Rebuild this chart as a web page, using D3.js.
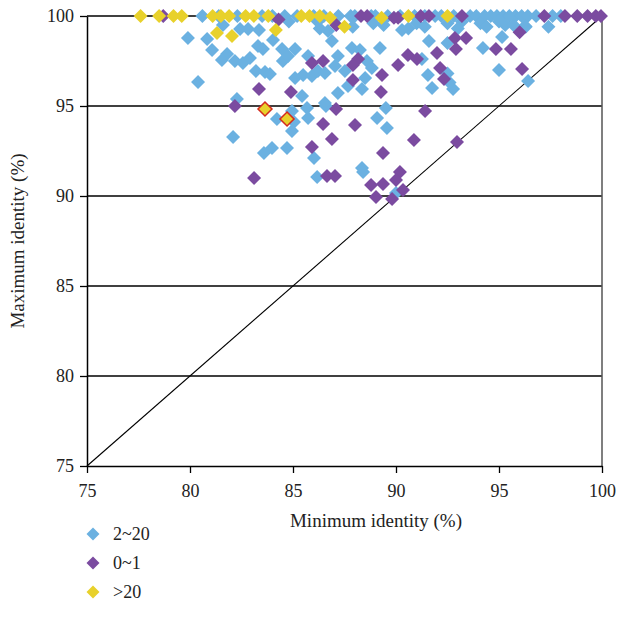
<!DOCTYPE html>
<html><head><meta charset="utf-8">
<script src="https://cdn.jsdelivr.net/npm/d3@7"></script>
<style>body{margin:0;background:#fff}svg{display:block}text{font-family:"Liberation Serif","DejaVu Serif",serif;fill:#222}</style>
</head><body>
<script>
const xTicks = [75, 80, 85, 90, 95, 100];
const yTicks = [75, 80, 85, 90, 95, 100];
const seriesNames = ["2~20", "0~1", ">20"];
const seriesColors = ["#6BB1E1", "#7B4BA0", "#E8D12B"];

// 2~20 (blue)
const blueX = [80.6,81.4,82.3,83.5,84.0,84.6,85.2,86.0,86.5,87.2,87.8,88.0,88.8,89.0,89.6,90.2,90.9,91.4,91.9,92.2,92.8,93.6,93.9,94.3,94.6,94.9,95.2,95.5,95.8,96.1,96.4,96.8,97.6,98.0,
 84.8,86.2,88.9,91.0,92.5,93.2,94.1,95.3,96.3,97.4,95.0,
 86.3,87.9,89.4,90.6,91.4,93.0,94.4,95.7,
 79.90,80.83,81.07,81.60,82.43,82.82,83.35,81.80,81.55,82.18,82.57,82.91,83.30,83.54,84.03,84.47,84.51,83.20,83.64,83.88,80.39,82.28,84.22,84.95,85.68,85.73,85.05,84.95,82.09,83.98,83.59,84.71,86.02,86.17,86.60,
 86.89,86.70,85.10,84.76,85.73,87.18,87.86,88.25,88.59,88.83,89.22,88.50,88.35,87.18,86.55,85.44,85.10,85.49,85.92,86.21,86.55,87.04,87.52,87.67,91.26,91.60,91.55,91.75,90.29,
 94.22,95.15,95.00,96.41,92.77,89.08,89.51,89.56,88.35,88.40,90.00,96.26,92.5,92.5,92.6];
const blueY = [100,100,100,100,100,100,100,100,100,100,100,100,100,100,100,100,100,100,100,100,100,100,100,100,100,100,100,100,100,100,100,100,100,100,
 99.7,99.7,99.6,99.6,99.6,99.7,99.6,99.5,99.4,99.4,99.7,
 99.3,99.4,99.5,99.3,99.4,99.3,99.4,99.5,
 98.78,98.72,98.11,99.50,99.28,99.28,99.22,97.89,97.56,97.50,97.39,97.67,98.33,98.17,98.67,98.17,97.50,96.94,96.89,96.78,96.33,95.39,94.28,94.72,94.89,94.33,94.11,93.61,93.28,92.67,92.39,92.67,92.11,91.06,95.0,
 98.61,99.17,98.17,97.78,97.78,97.78,98.22,98.11,97.50,97.11,98.22,96.56,95.94,95.72,95.17,95.56,96.56,96.72,96.67,96.94,96.83,97.22,96.94,96.11,97.61,98.61,96.72,96.0,99.22,
 98.22,98.83,97.00,96.39,95.94,94.33,94.89,93.78,91.56,91.33,90.17,99.44,98.5,96.8,96.3];

// 0~1 (purple)
const purpleX = [78.7,88.3,88.6,89.9,90.1,91.2,91.6,93.2,97.2,98.2,98.8,99.3,99.7,99.95,84.3,87.1,96.0,92.86,93.40,92.91,94.85,95.58,96.12,92.33,92.14,91.99,90.10,90.58,91.02,85.92,86.46,88.16,87.91,89.32,87.91,89.27,84.90,83.35,82.18,86.46,86.89,87.09,85.92,86.65,87.04,83.11,88.01,91.41,90.87,92.96,89.37,90.19,90.00,88.79,89.37,90.34,89.03,89.81];
const purpleY = [100,100,100,99.9,99.9,100,100,100,100,100,100,100,100,100,99.8,99.5,99.1,98.78,98.78,98.17,98.17,98.17,97.06,96.5,97.11,97.94,97.28,97.83,97.61,97.39,97.50,97.61,97.28,96.72,96.44,95.78,95.78,95.94,95.0,94.0,93.17,94.83,92.72,91.11,91.11,91.0,93.94,94.72,93.11,93.0,92.39,91.33,90.89,90.61,90.67,90.33,89.94,89.83];

// >20 (yellow)
const yellowX = [77.6,78.5,79.2,79.6,81.1,81.5,81.9,82.7,83.1,83.8,85.4,85.8,86.3,86.8,89.3,90.6,92.5,87.5,81.31,82.04,84.17,83.64,84.71];
const yellowY = [100,100,100,100,100,100,100,100,100,100,100,100,100,99.9,99.9,100,100,99.4,99.06,98.89,99.22,94.83,94.28];
const yellowOutlined = [false,false,false,false,false,false,false,false,false,false,false,false,false,false,false,false,false,false,false,false,false,true,true];

const W = 617, H = 628;
const m = {left: 87, right: 602, top: 16, bottom: 466};
const svg = d3.select("body").append("svg").attr("width", W).attr("height", H);
const x = d3.scaleLinear().domain([75, 100]).range([m.left, m.right]);
const y = d3.scaleLinear().domain([75, 100]).range([m.bottom, m.top]);

// gridlines
svg.append("g").selectAll("line").data(yTicks.filter(t => t > 75)).join("line")
  .attr("x1", m.left).attr("x2", m.right).attr("y1", d => y(d)).attr("y2", d => y(d))
  .attr("stroke", "#000").attr("stroke-width", 1.3);
// right border
svg.append("line").attr("x1", m.right).attr("x2", m.right).attr("y1", m.top).attr("y2", m.bottom)
  .attr("stroke", "#555").attr("stroke-width", 1.5);
// diagonal
svg.append("line").attr("x1", x(75)).attr("y1", y(75)).attr("x2", x(100)).attr("y2", y(100))
  .attr("stroke", "#000").attr("stroke-width", 1.1);

// axes
const xAxis = d3.axisBottom(x).tickValues(xTicks).tickSize(7).tickPadding(11).tickSizeOuter(0);
const gx = svg.append("g").attr("transform", `translate(0,${m.bottom})`).call(xAxis);
const yAxis = d3.axisLeft(y).tickValues(yTicks).tickSize(7).tickPadding(6).tickSizeOuter(0);
const gy = svg.append("g").attr("transform", `translate(${m.left},0)`).call(yAxis);
[gx, gy].forEach(g => {
  g.select(".domain").attr("stroke", "#000").attr("stroke-width", 1.5);
  g.selectAll(".tick line").attr("stroke", "#000").attr("stroke-width", 1.3);
  g.selectAll(".tick text").attr("font-size", 18).attr("font-family", "Liberation Serif, serif").attr("fill", "#222");
});

// diamond path
const diamond = (r) => `M0,${-r}L${r},0L0,${r}L${-r},0Z`;

function drawSeries(xs, ys, color, outl) {
  svg.append("g").selectAll("path").data(xs.map((v, i) => ({x: v, y: ys[i], o: outl ? outl[i] : false}))).join("path")
    .attr("d", diamond(7))
    .attr("transform", d => `translate(${x(d.x)},${y(d.y)})`)
    .attr("fill", color)
    .attr("stroke", d => d.o ? "#D42A1E" : "none")
    .attr("stroke-width", d => d.o ? 1.5 : 0);
}
drawSeries(blueX, blueY, seriesColors[0]);
drawSeries(purpleX, purpleY, seriesColors[1]);
drawSeries(yellowX, yellowY, seriesColors[2], yellowOutlined);

// axis titles
svg.append("text").attr("x", 376).attr("y", 527).attr("text-anchor", "middle").attr("font-size", 19)
  .text("Minimum identity (%)");
svg.append("text").attr("transform", "translate(24,241) rotate(-90)").attr("text-anchor", "middle").attr("font-size", 19)
  .text("Maximum identity (%)");

// legend
const lg = svg.append("g");
seriesNames.forEach((n, i) => {
  const cy = 534 + i * 29;
  lg.append("path").attr("d", diamond(6.5)).attr("transform", `translate(93,${cy})`).attr("fill", seriesColors[i]);
  lg.append("text").attr("x", 113).attr("y", cy + 6).attr("font-size", 18).text(n);
});
</script>
</body></html>
